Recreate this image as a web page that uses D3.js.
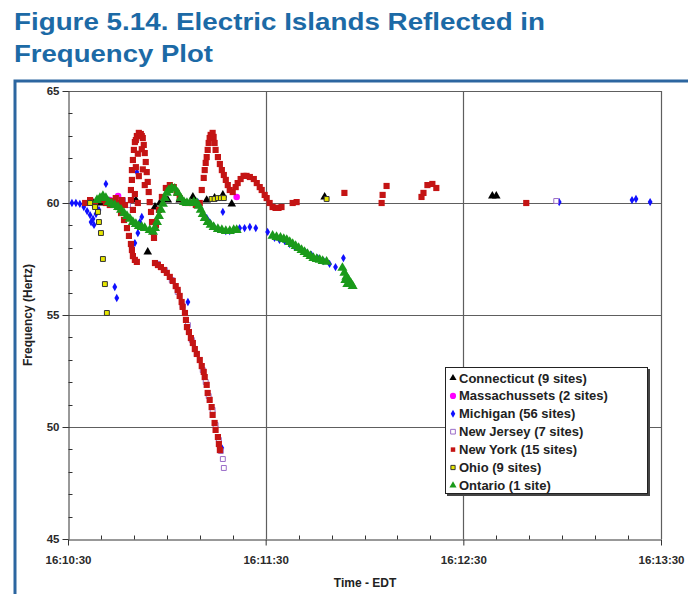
<!DOCTYPE html>
<html>
<head>
<meta charset="utf-8">
<script src="https://cdn.jsdelivr.net/npm/d3@7"></script>
<style>
  body { margin: 0; background: #fff; }
  svg { display: block; font-family: Arial, "Liberation Sans", sans-serif; }
  .tick text { font-weight: bold; font-size: 11.5px; fill: #2a2a2a; }
</style>
</head>
<body>
<svg id="chart" width="688" height="594"></svg>
<script>
// time in seconds after 16:10:30, frequency in Hz
const connecticut = [[7.6,60.00],[9.7,60.00],[20.6,60.13],[24.2,57.81],[26.4,59.82],[27.9,60.00],[30.3,60.13],
  [33.9,60.13],[37.9,60.27],[42.1,60.13],[44.5,60.22],[47.0,60.36],[49.7,59.96],[77.9,60.27],[128.8,60.31],[130.0,60.31]];

const massachussets = [[12.7,60.13],[15.2,60.31],[51.2,60.27]];

const michigan = [[1.2,60.00],[2.4,60.00],[3.6,59.96],[4.8,59.82],[5.8,59.64],[6.7,59.46],[7.0,59.15],[7.9,59.02],
  [7.6,59.29],[8.5,59.51],[9.4,59.69],[11.5,60.85],[14.2,56.25],[14.8,55.76],[19.7,57.72],[20.3,58.21],[21.2,58.66],
  [21.8,59.15],[22.4,59.38],[20.9,61.38],[36.4,55.58],[39.4,60.04],[40.9,59.55],[42.1,59.33],[43.0,59.15],[44.2,58.97],
  [45.5,58.84],[47.0,59.60],[47.9,58.75],[49.1,58.75],[50.3,58.79],[52.1,58.88],[53.6,58.88],[55.2,58.93],[57.0,58.88],
  [60.6,58.71],[62.7,58.44],[64.2,58.35],[65.8,58.30],[67.3,58.17],[68.8,58.04],[70.3,57.95],[72.1,57.81],[73.9,57.68],
  [75.8,57.54],[77.6,57.41],[79.4,57.28],[81.2,57.14],[83.6,57.54],[46.7,49.06],[149.1,60.04],[171.2,60.13],
  [172.4,60.18],[176.7,60.04]];

const newJersey = [[16.7,60.13],[18.2,59.91],[27.3,57.28],[29.4,57.01],[31.5,56.56],[33.3,56.03],[34.8,55.40],
  [36.4,54.55],[37.6,53.88],[39.1,53.26],[40.9,52.54],[41.8,52.01],[42.7,51.38],[43.9,50.76],[44.8,50.09],
  [45.8,49.42],[46.4,48.93],[47.0,48.57],[47.3,48.17],[148.2,60.09]];

const newYork = [
  // near 60 before the split
  [5.2,60.00],[6.7,60.13],[8.2,59.91],[9.7,60.13],[10.6,60.22],[11.5,60.00],[12.7,59.91],[13.6,60.09],
  [14.5,60.22],[15.5,60.00],[16.4,60.13],[17.3,59.91],
  [15.2,59.82],[16.1,59.55],[17.0,59.24],[17.9,58.88],[18.5,58.53],[19.1,58.17],[19.4,57.90],[19.7,57.63],
  [20.3,57.46],[20.9,57.37],
  // first spike
  [19.1,60.13],[19.7,59.69],[19.1,60.58],[19.4,61.03],[19.4,61.47],[19.7,61.92],[20.0,62.37],[20.3,62.72],
  [20.6,62.81],[20.9,62.99],[21.5,63.13],[22.1,63.08],[22.4,62.99],[22.7,62.90],[23.0,62.59],[23.3,62.23],
  [23.6,61.83],[23.9,61.38],[24.2,60.94],[24.5,60.49],[24.8,60.04],[25.2,59.60],[25.5,59.15],[25.8,58.71],
  [26.1,58.44],
  [20.6,61.60],[21.2,62.20],[22.4,62.40],[21.5,61.20],[22.7,61.50],[23.3,60.80],[20.3,60.40],[21.2,60.00],
  [26.7,59.02],[27.6,59.69],[28.5,60.27],[29.7,60.67],[30.9,60.80],[32.1,60.71],[33.0,60.45],[33.9,60.22],
  [35.2,60.04],[36.4,60.00],[37.6,60.00],[38.8,59.91],[40.0,60.00],
  // collapse
  [26.4,57.32],[27.3,57.23],[28.2,57.14],[29.1,57.01],[30.0,56.88],[30.9,56.70],[31.8,56.52],[32.7,56.29],
  [33.3,56.12],[33.9,55.85],[34.5,55.58],[34.8,55.36],[35.5,55.09],[35.8,54.78],[36.1,54.46],[36.7,54.24],
  [37.3,53.97],[37.9,53.75],[38.5,53.48],[39.1,53.26],[40.0,52.99],[40.6,52.72],[41.2,52.46],[41.5,52.23],
  [42.1,51.88],[42.4,51.52],[43.0,51.21],[43.6,50.89],[43.9,50.54],[44.5,50.18],[44.8,49.87],[45.5,49.55],
  [45.8,49.24],[46.1,48.97],
  // second spike and after
  [40.6,60.58],[41.2,61.12],[41.5,61.47],[41.8,61.79],[42.1,62.05],[42.4,62.37],[42.7,62.68],[43.0,62.90],
  [43.3,63.04],[43.9,63.13],[44.2,62.95],[44.5,62.68],[44.8,62.37],[45.5,62.05],[46.1,61.74],[46.7,61.47],
  [47.3,61.25],[47.9,61.03],[48.5,60.80],[49.1,60.58],[50.0,60.49],[50.9,60.71],[51.5,60.89],[52.4,61.07],
  [53.3,61.21],[54.2,61.21],[55.2,61.16],[56.4,61.07],[57.3,60.89],[58.2,60.71],[58.8,60.58],[59.7,60.36],
  [60.3,60.22],[61.2,60.00],[62.1,59.82],[63.0,59.78],[63.9,59.78],[64.8,59.82],[68.2,60.00],[69.4,60.04],
  [83.9,60.45],[95.2,60.00],[95.5,60.36],[96.7,60.76],[107.3,60.27],[107.9,60.45],[109.1,60.80],[110.6,60.85],
  [111.8,60.67],[139.1,60.00]];

const ohio = [[6.7,60.00],[8.2,59.82],[9.1,59.60],[9.4,59.15],[10.0,58.66],[10.6,57.50],[11.2,56.38],[11.8,55.09],
  [43.6,60.18],[44.5,60.18],[45.5,60.22],[46.4,60.22],[47.3,60.22],[78.5,60.18]];

const ontario = [[8.8,60.13],[9.7,60.22],[10.6,60.31],[11.5,60.22],[12.4,60.04],[13.3,59.96],[14.2,59.91],
  [15.2,59.82],[16.1,59.69],[17.0,59.55],[17.9,59.42],[18.8,59.29],[19.7,59.15],[20.6,59.06],[21.5,58.97],
  [22.4,58.93],[23.3,58.88],[24.8,58.79],[25.8,58.71],[26.4,58.88],[27.0,59.15],[27.6,59.42],[28.2,59.69],
  [28.8,59.96],[29.4,60.22],[30.0,60.45],[30.6,60.58],[31.5,60.67],[32.4,60.63],[33.3,60.45],[34.2,60.22],
  [35.2,60.04],[36.1,60.00],[37.0,60.00],[38.2,60.04],[39.1,60.00],[39.7,59.87],[40.3,59.69],[40.9,59.51],
  [41.5,59.33],[42.4,59.15],[43.3,59.02],[44.2,58.93],[45.5,58.84],[46.7,58.79],[47.9,58.75],[49.1,58.75],
  [50.3,58.79],[51.2,58.79],
  [62.1,58.53],[63.3,58.48],[64.5,58.44],[65.5,58.39],[66.4,58.35],[67.3,58.26],[68.2,58.17],[69.1,58.08],
  [70.0,57.99],[70.9,57.90],[71.8,57.81],[72.7,57.72],[73.6,57.63],[74.5,57.54],[75.5,57.50],[76.4,57.46],
  [77.3,57.41],[78.5,57.37],[83.3,57.10],[83.9,56.88],[84.5,56.70],[85.2,56.56],[85.8,56.43],[86.4,56.29],
  [84.8,56.38],[84.2,56.56]];

const seriesNames = ['Connecticut (9 sites)', 'Massachussets (2 sites)', 'Michigan (56 sites)',
  'New Jersey (7 sites)', 'New York (15 sites)', 'Ohio (9 sites)', 'Ontario (1 site)'];
const yTicks = [45, 50, 55, 60, 65];
const xTicks = [0, 60, 120, 180];
const xTickLabels = ['16:10:30', '16:11:30', '16:12:30', '16:13:30'];

const series = [
  { name: seriesNames[0], data: connecticut, shape: d3.symbolTriangle, size: 32, fill: '#000', stroke: 'none', key: 22 },
  { name: seriesNames[1], data: massachussets, shape: d3.symbolCircle, size: 34, fill: '#ff00ff', stroke: 'none', key: 30 },
  { name: seriesNames[2], data: michigan, shape: d3.symbolDiamond, size: 20, fill: '#1010ff', stroke: 'none', key: 18 },
  { name: seriesNames[3], data: newJersey, shape: d3.symbolSquare, size: 24, fill: '#fff', stroke: '#9a6cc8', key: 22 },
  { name: seriesNames[4], data: newYork, shape: d3.symbolSquare, size: 38, fill: '#c41414', stroke: 'none', key: 20 },
  { name: seriesNames[5], data: ohio, shape: d3.symbolSquare, size: 24, fill: '#e6e600', stroke: '#333', key: 18 },
  { name: seriesNames[6], data: ontario, shape: d3.symbolTriangle, size: 44, fill: '#1a9a1a', stroke: 'none', key: 22 }
];

const svg = d3.select('#chart');
const plotL = 68, plotR = 661, plotT = 91, plotB = 539;

const x = d3.scaleLinear().domain([0, 180]).range([plotL, plotR]);
const y = d3.scaleLinear().domain([45, 65]).range([plotB, plotT]);

// title
const title = svg.append('g')
  .attr('fill', '#1c6aa6')
  .attr('font-weight', 'bold')
  .attr('font-size', 24);
title.append('text').attr('x', 14).attr('y', 30)
  .attr('textLength', 531).attr('lengthAdjust', 'spacingAndGlyphs')
  .text('Figure 5.14. Electric Islands Reflected in');
title.append('text').attr('x', 14).attr('y', 62)
  .attr('textLength', 199).attr('lengthAdjust', 'spacingAndGlyphs')
  .text('Frequency Plot');

// blue frame
svg.append('rect')
  .attr('x', 15).attr('y', 81)
  .attr('width', 700).attr('height', 600)
  .attr('fill', 'none')
  .attr('stroke', '#2c66a0')
  .attr('stroke-width', 3);

// grid
const grid = svg.append('g').attr('stroke', '#5e5e5e').attr('stroke-width', 1.2);
grid.selectAll('.hg').data(yTicks.slice(1))
  .join('line')
  .attr('x1', plotL).attr('x2', plotR)
  .attr('y1', d => Math.round(y(d)) + 0.5).attr('y2', d => Math.round(y(d)) + 0.5);
grid.selectAll('.vg').data(xTicks.slice(1))
  .join('line')
  .attr('y1', plotT).attr('y2', plotB)
  .attr('x1', d => Math.round(x(d)) + 0.5).attr('x2', d => Math.round(x(d)) + 0.5);

// axes
const minorY = d3.range(45, 65.01, 1).filter(v => v % 5 !== 0);
const minorX = d3.range(0, 180.01, 10).filter(v => v % 60 !== 0);

const yAxis = svg.append('g')
  .attr('transform', `translate(${plotL + 0.5},0)`)
  .call(d3.axisLeft(y).tickValues(yTicks).tickSize(6).tickPadding(3).tickSizeOuter(0));
yAxis.append('g').selectAll('line').data(minorY).join('line')
  .attr('x1', 0).attr('x2', 4)
  .attr('y1', d => Math.round(y(d)) + 0.5).attr('y2', d => Math.round(y(d)) + 0.5)
  .attr('stroke', '#333');

const xAxis = svg.append('g')
  .attr('transform', `translate(0,${plotB + 0.5})`)
  .call(d3.axisBottom(x).tickValues(xTicks).tickSize(6).tickPadding(10).tickSizeOuter(0)
    .tickFormat((d, i) => xTickLabels[i]));
xAxis.append('g').selectAll('line').data(minorX).join('line')
  .attr('y1', 0).attr('y2', -4)
  .attr('x1', d => Math.round(x(d)) + 0.5).attr('x2', d => Math.round(x(d)) + 0.5)
  .attr('stroke', '#333');

svg.selectAll('.domain').attr('stroke', '#333');
svg.selectAll('.tick line').attr('stroke', '#333');

// axis titles
svg.append('text')
  .attr('x', 365).attr('y', 587)
  .attr('text-anchor', 'middle')
  .attr('font-weight', 'bold').attr('font-size', 12).attr('fill', '#222')
  .text('Time - EDT');
svg.append('text')
  .attr('transform', `translate(32,${(plotT + plotB) / 2}) rotate(-90)`)
  .attr('text-anchor', 'middle')
  .attr('font-weight', 'bold').attr('font-size', 12).attr('fill', '#222')
  .text('Frequency (Hertz)');

// points
const symbol = d3.symbol();
const marks = svg.append('g');
series.forEach(s => {
  marks.append('g').selectAll('path').data(s.data).join('path')
    .attr('transform', d => `translate(${x(d[0])},${y(d[1])})`)
    .attr('d', symbol.type(s.shape).size(s.size)())
    .attr('fill', s.fill)
    .attr('stroke', s.stroke)
    .attr('stroke-width', 1);
});

// legend
const lg = svg.append('g').attr('transform', 'translate(445,367)');
lg.append('rect').attr('x', 2).attr('y', 2).attr('width', 203).attr('height', 127).attr('fill', '#444');
lg.append('rect').attr('x', 0.5).attr('y', 0.5).attr('width', 202).attr('height', 126)
  .attr('fill', '#fff').attr('stroke', '#222');
series.forEach((s, i) => {
  const row = lg.append('g').attr('transform', `translate(8,${11 + i * 17.9})`);
  row.append('path')
    .attr('d', symbol.type(s.shape).size(s.key)())
    .attr('fill', s.fill).attr('stroke', s.stroke);
  row.append('text')
    .attr('x', 6).attr('y', 4.5)
    .attr('font-weight', 'bold').attr('font-size', 13).attr('fill', '#222')
    .text(s.name);
});
</script>
</body>
</html>
